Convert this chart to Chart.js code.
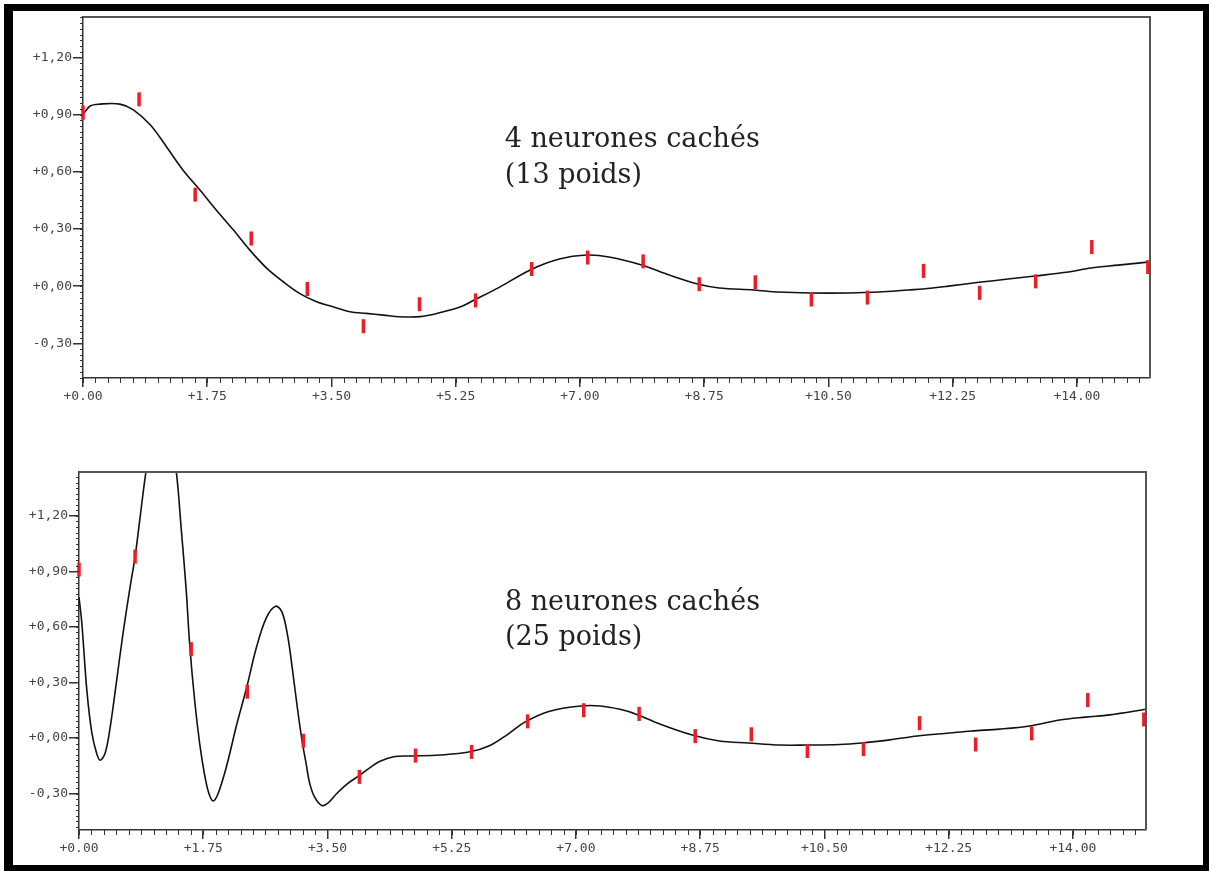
<!DOCTYPE html>
<html><head><meta charset="utf-8">
<script src="https://cdn.jsdelivr.net/npm/chart.js@4/dist/chart.umd.min.js"></script>
<style>
html,body{margin:0;padding:0;background:#fff;width:1209px;height:871px;overflow:hidden;}
#frame{position:absolute;left:4px;top:4px;width:1205px;height:867px;box-sizing:border-box;border-style:solid;border-color:#000;border-width:7px 6px 6px 9px;}
canvas{position:absolute;left:0;}
#c1{top:0;}
#c2{top:440px;}
</style></head>
<body>
<div id="frame"></div>
<canvas id="c1" width="1209" height="420"></canvas>
<canvas id="c2" width="1209" height="431"></canvas>
<script>
// training samples (red marks)
const sampleX = [0, 0.79, 1.58, 2.37, 3.16, 3.95, 4.74, 5.53, 6.32, 7.11, 7.89, 8.68, 9.47, 10.26, 11.05, 11.84, 12.63, 13.42, 14.21, 15.0];
const sampleY = [0.91, 0.98, 0.48, 0.25, -0.015, -0.21, -0.095, -0.075, 0.09, 0.15, 0.13, 0.01, 0.02, -0.07, -0.06, 0.08, -0.035, 0.025, 0.205, 0.10];

// 4 hidden neurons model output
const topCurveX = [0, 0.10, 0.24, 0.52, 0.71, 0.95, 1.18, 1.41, 1.65, 1.88, 2.12, 2.35, 2.59, 2.82, 3.05, 3.29, 3.52, 3.76, 3.99, 4.23, 4.46, 4.75, 5.02, 5.31, 5.51, 5.87, 6.30, 6.71, 7.09, 7.41, 7.88, 8.26, 8.66, 8.96, 9.45, 9.80, 10.25, 10.79, 11.21, 11.63, 11.83, 12.19, 12.62, 13.03, 13.41, 13.88, 14.20, 14.58, 15.0];
const topCurveY = [0.90, 0.945, 0.955, 0.955, 0.925, 0.845, 0.729, 0.608, 0.503, 0.398, 0.294, 0.189, 0.093, 0.023, -0.038, -0.082, -0.108, -0.134, -0.143, -0.152, -0.161, -0.16, -0.14, -0.11, -0.073, -0.005, 0.085, 0.142, 0.163, 0.153, 0.11, 0.058, 0.011, -0.01, -0.02, -0.031, -0.036, -0.036, -0.031, -0.02, -0.015, 0.0, 0.02, 0.037, 0.053, 0.074, 0.095, 0.11, 0.126];

// 8 hidden neurons model output
const botCurveX = [0, 0.04, 0.11, 0.18, 0.25, 0.30, 0.37, 0.44, 0.53, 0.62, 0.72, 0.79, 0.86, 0.94, 1.04, 1.15, 1.27, 1.37, 1.44, 1.51, 1.56, 1.63, 1.70, 1.77, 1.83, 1.89, 1.96, 2.08, 2.22, 2.36, 2.50, 2.64, 2.77, 2.86, 2.94, 3.01, 3.07, 3.14, 3.20, 3.25, 3.32, 3.42, 3.51, 3.63, 3.77, 3.93, 4.10, 4.24, 4.45, 4.70, 5.08, 5.49, 5.79, 6.04, 6.28, 6.63, 7.07, 7.34, 7.62, 7.84, 8.18, 8.64, 9.02, 9.43, 9.87, 10.24, 10.71, 11.02, 11.42, 11.81, 12.26, 12.57, 12.97, 13.39, 13.81, 14.18, 14.52, 14.97, 15.02];
const botCurveY = [0.76, 0.62, 0.26, 0.03, -0.085, -0.12, -0.08, 0.06, 0.31, 0.565, 0.816, 0.98, 1.19, 1.43, 1.66, 1.76, 1.66, 1.44, 1.13, 0.80, 0.50, 0.20, -0.03, -0.20, -0.30, -0.34, -0.30, -0.15, 0.07, 0.27, 0.49, 0.65, 0.712, 0.68, 0.55, 0.36, 0.18, -0.01, -0.14, -0.245, -0.32, -0.365, -0.35, -0.30, -0.25, -0.207, -0.16, -0.126, -0.10, -0.097, -0.092, -0.076, -0.04, 0.02, 0.086, 0.145, 0.173, 0.173, 0.155, 0.13, 0.076, 0.016, -0.016, -0.027, -0.038, -0.038, -0.035, -0.027, -0.01, 0.011, 0.027, 0.038, 0.048, 0.065, 0.097, 0.113, 0.125, 0.151, 0.155];

// ticks
const xTicks = [0, 1.75, 3.5, 5.25, 7, 8.75, 10.5, 12.25, 14];
const xTickLabels = ['+0.00', '+1.75', '+3.50', '+5.25', '+7.00', '+8.75', '+10.50', '+12.25', '+14.00'];
const yTicks = [-0.3, 0, 0.3, 0.6, 0.9, 1.2];
const yTickLabels = ['-0,30', '+0,00', '+0,30', '+0,60', '+0,90', '+1,20'];

const topTitle = ['4 neurones cachés', '(13 poids)'];
const botTitle = ['8 neurones cachés', '(25 poids)'];

const pts = (xs, ys) => xs.map((x, i) => ({x: x, y: ys[i]}));

const decorPlugin = {
  id: 'decor',
  afterDatasetsDraw(chart, args, opts) {
    const ctx = chart.ctx, a = chart.chartArea, xs = chart.scales.x, ys = chart.scales.y;
    ctx.save();
    // top/right frame of the plot
    ctx.strokeStyle = '#555';
    ctx.lineWidth = 2;
    ctx.beginPath();
    ctx.moveTo(a.left, a.top); ctx.lineTo(a.right, a.top); ctx.lineTo(a.right, a.bottom);
    ctx.stroke();
    // minor ticks
    ctx.strokeStyle = '#333';
    ctx.lineWidth = 1;
    ctx.beginPath();
    for (let k = 0; k * 0.175 <= xs.max + 1e-9; k++) {
      const px = Math.round(xs.getPixelForValue(k * 0.175)) + 0.5;
      ctx.moveTo(px, a.bottom); ctx.lineTo(px, a.bottom + 5);
    }
    for (let k = Math.ceil(ys.min / 0.03); k * 0.03 <= ys.max; k++) {
      const py = Math.round(ys.getPixelForValue(k * 0.03)) + 0.5;
      ctx.moveTo(a.left - 3, py); ctx.lineTo(a.left, py);
    }
    ctx.stroke();
    // caption
    ctx.fillStyle = '#222';
    ctx.font = '27px "DejaVu Serif", "Liberation Serif", serif';
    ctx.textAlign = 'left';
    ctx.textBaseline = 'alphabetic';
    opts.lines.forEach((t, i) => {
      ctx.fillText(t, xs.getPixelForValue(opts.x), ys.getPixelForValue(opts.y[i]));
    });
    ctx.restore();
  }
};

function makeChart(id, canvasTop, canvasH, area, curveX, curveY, yMin, yMax, caption) {
  const W = 1209;
  return new Chart(document.getElementById(id), {
    data: {
      datasets: [
        {
          type: 'scatter',
          data: pts(sampleX, sampleY),
          pointStyle: 'line',
          rotation: 90,
          radius: 7,
          hoverRadius: 7,
          borderWidth: 3.5,
          borderColor: '#ee1c24',
          backgroundColor: '#ee1c24',
          clip: false,
          order: 0
        },
        {
          type: 'line',
          data: pts(curveX, curveY),
          borderColor: '#111',
          borderWidth: 1.6,
          pointRadius: 0,
          tension: 0.35,
          fill: false,
          order: 1
        }
      ]
    },
    options: {
      responsive: false,
      animation: false,
      events: [],
      layout: {padding: {left: 0, right: W - area.right, top: area.top - canvasTop, bottom: 0}},
      plugins: {
        legend: {display: false},
        tooltip: {enabled: false},
        decor: caption
      },
      scales: {
        x: {
          type: 'linear',
          min: 0, max: 15.03,
          afterFit(s) { s.height = canvasTop + canvasH - area.bottom; },
          afterBuildTicks(s) { s.ticks = xTicks.map(v => ({value: v})); },
          ticks: {
            autoSkip: false, maxRotation: 0, padding: 2,
            color: '#444',
            font: {family: '"DejaVu Sans Mono", monospace', size: 13},
            callback: (v, i) => xTickLabels[i]
          },
          grid: {drawOnChartArea: false, drawTicks: true, tickLength: 9, color: '#333', lineWidth: 1.5},
          border: {display: true, color: '#333', width: 1.5}
        },
        y: {
          type: 'linear',
          min: yMin, max: yMax,
          afterFit(s) { s.width = area.left; },
          afterBuildTicks(s) { s.ticks = yTicks.map(v => ({value: v})); },
          ticks: {
            autoSkip: false, padding: 1,
            color: '#444',
            font: {family: '"DejaVu Sans Mono", monospace', size: 13},
            callback: (v, i) => yTickLabels[i]
          },
          grid: {drawOnChartArea: false, drawTicks: true, tickLength: 10, color: '#333', lineWidth: 1.5},
          border: {display: true, color: '#333', width: 1.5}
        }
      }
    },
    plugins: [decorPlugin]
  });
}

makeChart('c1', 0, 420, {left: 83, right: 1150, top: 17, bottom: 378},
  topCurveX, topCurveY, -0.482, 1.412,
  {lines: topTitle, x: 5.94, y: [0.729, 0.541]});
makeChart('c2', 440, 431, {left: 79, right: 1146, top: 472, bottom: 830},
  botCurveX, botCurveY, -0.497, 1.437,
  {lines: botTitle, x: 6.0, y: [0.69, 0.50]});
</script>
</body></html>
